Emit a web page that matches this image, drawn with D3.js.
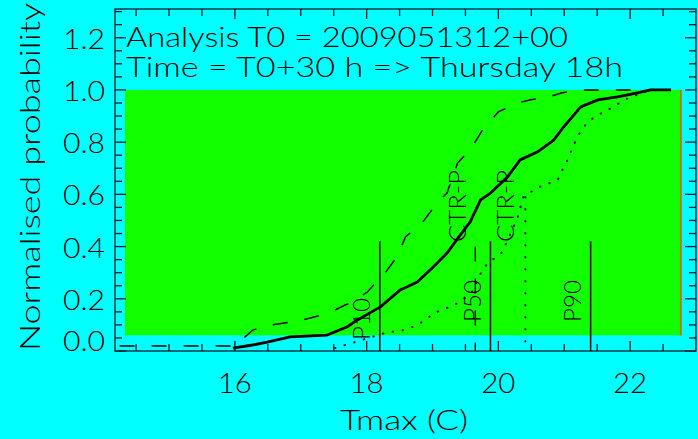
<!DOCTYPE html>
<html>
<head>
<meta charset="utf-8">
<script src="https://cdn.jsdelivr.net/npm/d3@7"></script>
<style>
  html, body { margin: 0; padding: 0; background: #00ffff; }
  svg { display: block; }
  text { font-family: "Lato", "DejaVu Sans", sans-serif; font-weight: 300; fill: #000; }
</style>
</head>
<body>
<div id="chart"></div>
<script>
// ---- data ----
const xTicks = [16, 18, 20, 22];
const yTicks = [0, 0.2, 0.4, 0.6, 0.8, 1.0, 1.2];

// EPS distribution (thick solid)
const epsT = [15.97, 16.27, 16.49, 16.84, 17.40, 17.70, 17.86, 18.21, 18.51, 18.77, 19.01, 19.22, 19.42,
  19.57, 19.73, 19.88, 20.14, 20.33, 20.59, 20.84, 20.99, 21.25, 21.51, 21.81, 22.11, 22.31, 22.62];
const epsP = [0.011, 0.023, 0.034, 0.054, 0.061, 0.092, 0.119, 0.169, 0.234, 0.264, 0.322, 0.375, 0.444,
  0.494, 0.579, 0.605, 0.667, 0.732, 0.762, 0.808, 0.858, 0.935, 0.962, 0.973, 0.989, 1.0, 1.0];

// dashed distribution
const dashT = [14.25, 16.0, 16.27, 16.56, 16.84, 17.03, 17.32, 17.52, 17.83, 18.01, 18.28, 18.46, 18.59,
  18.84, 19.07, 19.22, 19.38, 19.57, 19.76, 20.0, 20.29, 20.49, 20.76, 20.97, 21.25, 22.57];
const dashP = [0.019, 0.019, 0.080, 0.100, 0.111, 0.119, 0.138, 0.157, 0.195, 0.226, 0.299, 0.360, 0.437,
  0.490, 0.567, 0.605, 0.720, 0.770, 0.847, 0.916, 0.950, 0.962, 0.973, 0.989, 1.0, 1.0];

// dotted distribution
const dotT = [17.52, 17.98, 18.28, 18.56, 18.69, 18.84, 18.97, 19.12, 19.27, 19.42, 19.60, 19.77, 19.91,
  20.06, 20.29, 20.38, 20.59, 20.90, 20.97, 21.05, 21.13, 21.20, 21.29, 21.44, 21.60, 21.75, 21.86, 22.01, 22.31, 22.62];
const dotP = [0.011, 0.046, 0.069, 0.080, 0.092, 0.111, 0.134, 0.157, 0.169, 0.188, 0.226, 0.318, 0.349,
  0.379, 0.510, 0.590, 0.625, 0.655, 0.693, 0.732, 0.782, 0.820, 0.858, 0.893, 0.916, 0.935, 0.954, 0.973, 1.0, 1.0];

// percentile markers
const pctNames = ["P10", "P50", "P90"];
const pctValues = [18.2, 19.88, 21.4];
const pctTop = 0.42;

// control forecast markers
const ctrNames = ["CTR-P", "CTR-P"];
const ctrValues = [19.65, 20.41];
const ctrTops = [0.40, 0.59];
const ctrStyles = ["dash", "dot"];

const greenBox = { t0: 14.33, t1: 22.77, p0: 0.06, p1: 1.0 };

const title1 = "Analysis T0 = 2009051312+00";
const title2 = "Time = T0+30 h => Thursday 18h";

// ---- drawing ----
const W = 698, H = 439;
const svg = d3.select("#chart").append("svg").attr("width", W).attr("height", H);
svg.append("rect").attr("width", W).attr("height", H).attr("fill", "#00ffff");

const x = d3.scaleLinear().domain([14.18, 23.0]).range([115, 696]);
const y = d3.scaleLinear().domain([0, 1.31]).range([351, 9]);

// green area
svg.append("rect")
  .attr("x", x(greenBox.t0)).attr("y", y(greenBox.p1))
  .attr("width", x(greenBox.t1) - x(greenBox.t0))
  .attr("height", y(greenBox.p0) - y(greenBox.p1))
  .attr("fill", "#12ff00");
svg.append("line")
  .attr("x1", x(greenBox.t1)).attr("x2", x(greenBox.t1))
  .attr("y1", y(greenBox.p1)).attr("y2", y(greenBox.p0))
  .attr("stroke", "#b87a10").attr("stroke-width", 2);

// axes (frame with inward ticks)
const minorX = d3.range(14.5, 23.0, 0.5);
const minorY = d3.range(0, 1.31, 0.05);

const frame = svg.append("g").attr("stroke", "#0a1a2a").attr("stroke-width", 1.3);
frame.append("rect").attr("x", 115).attr("y", 9).attr("width", 581).attr("height", 342).attr("fill", "none");

const isMajorX = v => Math.abs(v / 2 - Math.round(v / 2)) < 1e-6;
const isMajorY = v => Math.abs(v / 0.2 - Math.round(v / 0.2)) < 1e-6;

frame.selectAll(".xb").data(minorX).enter().append("line")
  .attr("x1", d => x(d)).attr("x2", d => x(d))
  .attr("y1", y(0)).attr("y2", d => y(0) - (isMajorX(d) ? 10 : 7));
frame.selectAll(".xt").data(minorX).enter().append("line")
  .attr("x1", d => x(d)).attr("x2", d => x(d))
  .attr("y1", 9).attr("y2", d => 9 + (isMajorX(d) ? 10 : 7));
frame.selectAll(".yl").data(minorY).enter().append("line")
  .attr("y1", d => y(d)).attr("y2", d => y(d))
  .attr("x1", 115).attr("x2", d => 115 + (isMajorY(d) ? 11 : 7));
frame.selectAll(".yr").data(minorY).enter().append("line")
  .attr("y1", d => y(d)).attr("y2", d => y(d))
  .attr("x1", 696).attr("x2", d => 696 - (isMajorY(d) ? 11 : 7));

// tick labels
svg.selectAll(".xl").data(xTicks).enter().append("text")
  .attr("x", d => x(d)).attr("y", 393)
  .attr("text-anchor", "middle").attr("font-size", 27)
  .attr("textLength", 34).attr("lengthAdjust", "spacingAndGlyphs")
  .text(d => d);
svg.selectAll(".yl2").data(yTicks).enter().append("text")
  .attr("x", 105).attr("y", d => d === 0 ? 351 : y(d) + 11)
  .attr("text-anchor", "end").attr("font-size", 27)
  .attr("textLength", 42).attr("lengthAdjust", "spacingAndGlyphs")
  .text(d => d3.format(".1f")(d));

// axis titles
svg.append("text").attr("x", 404).attr("y", 430).attr("text-anchor", "middle")
  .attr("font-size", 27).attr("textLength", 128).attr("lengthAdjust", "spacingAndGlyphs")
  .text("Tmax (C)");
svg.append("text").attr("transform", "translate(40,177) rotate(-90)")
  .attr("text-anchor", "middle").attr("font-size", 27)
  .attr("textLength", 348).attr("lengthAdjust", "spacingAndGlyphs")
  .text("Normalised probability");

// titles inside the frame
svg.append("text").attr("x", 126).attr("y", 47).attr("font-size", 27)
  .attr("textLength", 442).attr("lengthAdjust", "spacingAndGlyphs").text(title1);
svg.append("text").attr("x", 126).attr("y", 77).attr("font-size", 27)
  .attr("textLength", 497).attr("lengthAdjust", "spacingAndGlyphs").text(title2);

// percentile lines + labels
const marks = svg.append("g");
pctValues.forEach((v, i) => {
  marks.append("line")
    .attr("x1", x(v)).attr("x2", x(v)).attr("y1", y(pctTop)).attr("y2", y(0))
    .attr("stroke", "#000").attr("stroke-width", 1.5);
  const cy = i === 0 ? 319 : 301;
  marks.append("text")
    .attr("transform", `translate(${x(v) - 18},${cy}) rotate(-90)`)
    .attr("text-anchor", "middle").attr("dy", "0.36em").attr("font-size", 23)
    .attr("textLength", 42).attr("lengthAdjust", "spacingAndGlyphs")
    .text(pctNames[i]);
});

// control lines + labels
ctrValues.forEach((v, i) => {
  marks.append("line")
    .attr("x1", x(v)).attr("x2", x(v)).attr("y1", y(ctrTops[i])).attr("y2", y(0))
    .attr("stroke", "#000").attr("stroke-width", ctrStyles[i] === "dot" ? 2 : 1.4)
    .attr("stroke-linecap", ctrStyles[i] === "dot" ? "round" : "butt")
    .attr("stroke-dasharray", ctrStyles[i] === "dot" ? "0.5,11.5" : "15,17");
  marks.append("text")
    .attr("transform", `translate(${x(v) - (i === 0 ? 18 : 20)},206) rotate(-90)`)
    .attr("text-anchor", "middle").attr("dy", "0.36em").attr("font-size", 23)
    .attr("textLength", 72).attr("lengthAdjust", "spacingAndGlyphs")
    .text(ctrNames[i]);
});

// distribution curves
const line = d3.line().x(d => x(d[0])).y(d => y(d[1]));

svg.append("path")
  .datum(dotT.map((t, i) => [t, dotP[i]]))
  .attr("d", line).attr("fill", "none").attr("stroke", "#000")
  .attr("stroke-width", 2).attr("stroke-linecap", "round")
  .attr("stroke-dasharray", "0.5,9.5");

svg.append("path")
  .datum(dashT.map((t, i) => [t, dashP[i]]))
  .attr("d", line).attr("fill", "none").attr("stroke", "#000")
  .attr("stroke-width", 1.5).attr("stroke-dasharray", "15,17");

svg.append("path")
  .datum(epsT.map((t, i) => [t, epsP[i]]))
  .attr("d", line).attr("fill", "none").attr("stroke", "#000")
  .attr("stroke-width", 2.8).attr("stroke-linejoin", "round");
</script>
</body>
</html>
